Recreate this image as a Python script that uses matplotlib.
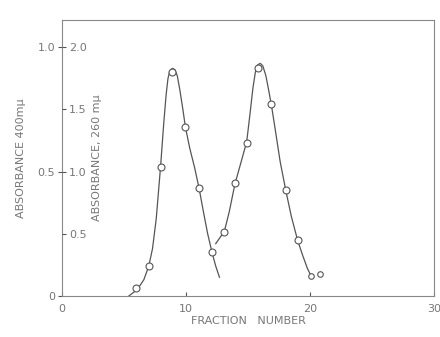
import matplotlib
matplotlib.use("Agg")
import matplotlib.pyplot as plt

# measured points (absorbance at 260 mu)
pt_x = [6.0, 7.0, 7.95, 8.9, 9.95, 11.05, 12.1,
        13.1, 13.95, 14.9, 15.85, 16.9, 18.05, 19.0]
pt_y = [0.06, 0.24, 1.04, 1.80, 1.36, 0.87, 0.35,
        0.51, 0.91, 1.23, 1.83, 1.54, 0.85, 0.45]
tail_x = [20.1, 20.8]
tail_y = [0.16, 0.18]

# hand-drawn curves
peak1_x = [5.4, 5.8, 6.2, 6.6, 7.0, 7.3, 7.6, 7.95, 8.2, 8.4, 8.55, 8.7,
           8.9, 9.1, 9.3, 9.5, 9.75, 9.95, 10.3, 10.7, 11.05, 11.4, 11.75,
           12.1, 12.4, 12.7]
peak1_y = [0.0, 0.03, 0.07, 0.13, 0.24, 0.38, 0.62, 1.04, 1.38, 1.62, 1.75,
           1.81, 1.83, 1.82, 1.77, 1.66, 1.50, 1.36, 1.19, 1.03, 0.87, 0.68,
           0.50, 0.35, 0.24, 0.15]
peak2_x = [12.4, 12.75, 13.1, 13.5, 13.95, 14.4, 14.9, 15.15, 15.4, 15.6,
           15.8, 16.0, 16.2, 16.45, 16.7, 16.9, 17.2, 17.6, 18.05, 18.5,
           19.0, 19.4, 19.8, 20.1]
peak2_y = [0.42, 0.47, 0.52, 0.68, 0.90, 1.06, 1.24, 1.45, 1.67, 1.80,
           1.86, 1.87, 1.85, 1.77, 1.64, 1.53, 1.34, 1.08, 0.85, 0.64,
           0.45, 0.33, 0.22, 0.16]

x_ticks = [0, 10, 20, 30]
outer_ticks = [0.0, 1.0, 2.0]
outer_labels = ["0", "0.5", "1.0"]
inner_ticks = [0.5, 1.0, 1.5, 2.0]
inner_labels = ["0.5", "1.0", "1.5", "2.0"]

ink = "#555555"
txt = "#777777"

fig = plt.figure(figsize=(4.4, 3.37), dpi=100)
ax = fig.add_axes([0.141, 0.122, 0.845, 0.819])

ax.plot(peak1_x, peak1_y, color=ink, lw=0.9)
ax.plot(peak2_x, peak2_y, color=ink, lw=0.9)
ax.plot(pt_x, pt_y, "o", mfc="white", mec=ink, ms=5, mew=0.8)
ax.plot(tail_x, tail_y, "o", mfc="white", mec=ink, ms=4, mew=0.8)

ax.set_xlim(0, 30)
ax.set_ylim(0, 2.22)

for side in ["left", "right", "top", "bottom"]:
    ax.spines[side].set_color("#888888")
    ax.spines[side].set_linewidth(0.8)
ax.spines["top"].set_linestyle((0, (6, 1)))
ax.spines["right"].set_linestyle((0, (6, 1)))

ax.set_xticks(x_ticks)
ax.set_xticklabels([str(v) for v in x_ticks])
ax.tick_params(axis="x", direction="in", length=3, color=ink,
               labelsize=8, labelcolor=txt, pad=6)
ax.set_yticks(outer_ticks)
ax.set_yticklabels(outer_labels)
ax.tick_params(axis="y", direction="out", length=3, color=ink,
               labelsize=8, labelcolor=txt, pad=2)
ax.set_xlabel("FRACTION   NUMBER", fontsize=8, color=txt, labelpad=1)
ax.set_ylabel("ABSORBANCE 400m\u03bc", fontsize=8, color=txt, labelpad=8)

# inner scale, drawn on the left spine, labels inside the frame
ax2 = ax.twinx()
ax2.set_ylim(ax.get_ylim())
ax2.spines["right"].set_position(("axes", 0))
ax2.spines["right"].set_visible(False)
for side in ["left", "top", "bottom"]:
    ax2.spines[side].set_visible(False)
ax2.yaxis.set_ticks_position("right")
ax2.set_yticks(inner_ticks)
ax2.set_yticklabels(inner_labels)
ax2.tick_params(axis="y", direction="out", length=3, color=ink,
                labelsize=8, labelcolor=txt, pad=2)
ax2.yaxis.set_label_position("right")
ax2.set_ylabel("ABSORBANCE, 260 m\u03bc", fontsize=8, color=txt,
               rotation=90, labelpad=4)

fig.savefig("out.png", dpi=100)
